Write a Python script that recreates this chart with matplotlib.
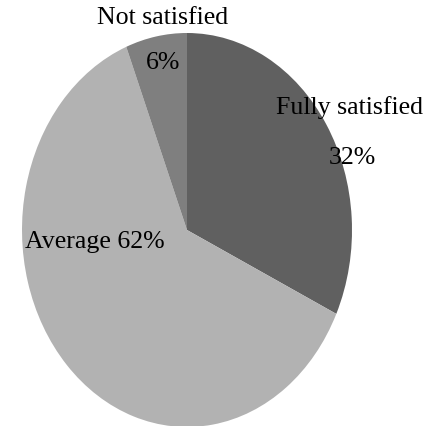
import matplotlib.pyplot as plt

# satisfaction shares
labels = ['Fully satisfied', 'Average', 'Not satisfied']
shares = [32, 62, 6]
colors = ['#606060', '#b2b2b2', '#7f7f7f']

plt.rcParams['font.family'] = ['Liberation Serif', 'DejaVu Serif']

W, H = 430, 427
fig = plt.figure(figsize=(W / 100, H / 100), dpi=100)
# pie box in pixels: left 22, right 352, top 34, bottom 428
ax = fig.add_axes([22 / W, (H - 428) / H, 330 / W, 394 / H])
ax.pie(shares, colors=colors, startangle=90, counterclock=False, radius=1,
       wedgeprops=dict(linewidth=0))
ax.set_aspect('auto')
ax.set_xlim(-1, 1)
ax.set_ylim(-1, 1)
ax.axis('off')


def put(text, x, y, ha='center'):
    fig.text(x / W, 1 - y / H, text, ha=ha, va='center', fontsize=18.6, color='black')


put(labels[2], 163, 18)
put(f'{shares[2]}%', 163, 63)
put(labels[0], 350, 108)
put(f'{shares[0]}%', 352, 158)
put(f'{labels[1]} {shares[1]}%', 25, 242, ha='left')

fig.savefig('out.png', dpi=100)
